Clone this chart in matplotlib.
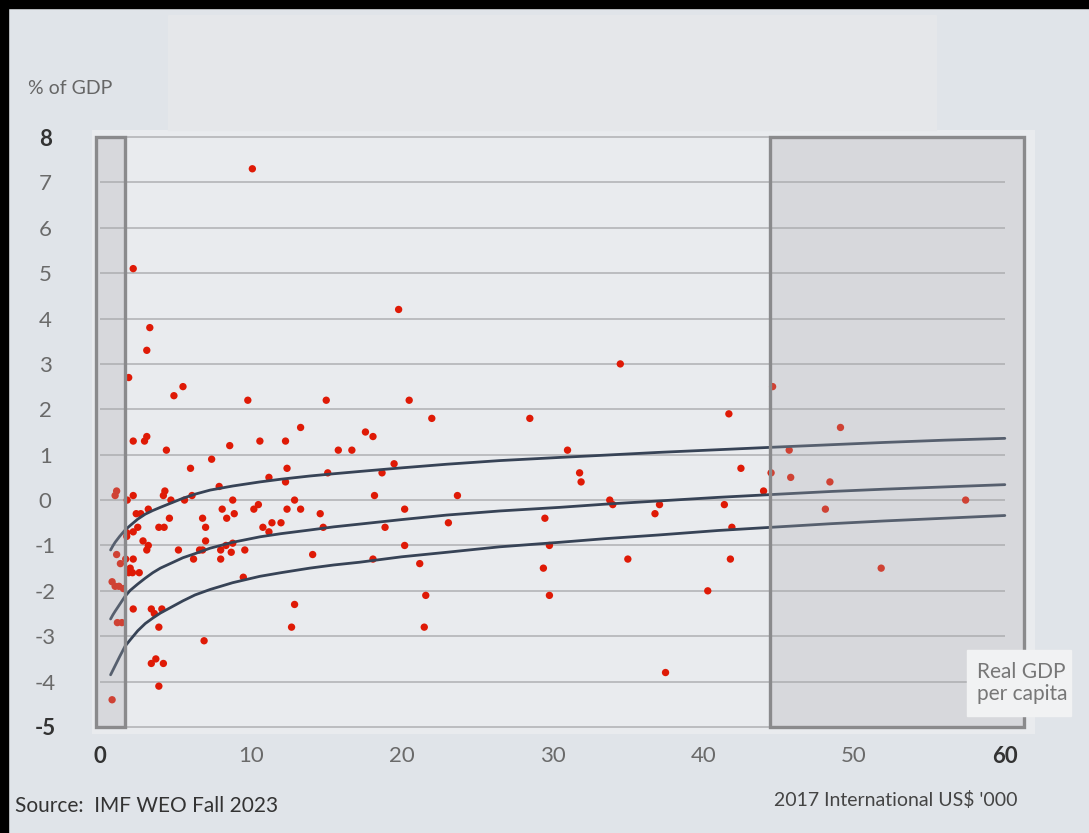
import matplotlib
matplotlib.use("Agg")
import matplotlib.pyplot as plt
from matplotlib.patches import Rectangle

plt.rcParams['font.family'] = ['Lato', 'DejaVu Sans']

# real GDP per capita ('000 2017 intl US$) and balance (% of GDP)
gdp_pc = [
    0.8, 1.0, 1.1, 0.8, 1.0, 1.25, 1.55, 1.15, 1.45, 1.1, 1.35,
    2.2, 2.95, 3.1, 4.4, 8.6, 7.4, 6.0, 7.9, 1.8, 2.2, 4.2, 4.3, 4.7, 5.6, 6.1, 8.8,
    2.4, 2.7, 3.2, 4.6, 6.8, 8.1, 8.4, 8.9, 2.5, 3.9, 4.25, 7.0, 1.77, 2.2, 1.77,
    2.85, 3.2, 3.1, 5.2, 6.6, 6.8, 7.0, 8.0, 8.35, 8.8, 8.7, 9.6,
    1.7, 2.2, 2.0, 1.9, 2.15, 2.6, 2.2, 3.4, 3.6, 4.1, 3.9, 6.9, 3.4, 3.7, 4.2, 3.9,
    6.2, 8.0,
    10.1, 2.2, 3.3, 3.1, 1.9, 4.9, 5.5, 9.8, 15.0, 13.3,
    10.6, 12.3, 17.6, 18.1, 15.8, 16.7, 19.5, 18.7, 12.4, 11.2, 15.1, 12.3, 18.2,
    12.9, 10.2, 10.5, 12.4, 13.3, 14.6, 10.8, 11.4, 12.0, 11.2, 14.8, 18.9, 14.1, 18.1,
    9.5, 12.9, 12.7,
    19.8, 20.5, 22.0, 28.5, 23.7, 20.2, 23.1, 29.5, 20.2, 29.8, 21.2, 29.4, 21.6,
    29.8, 21.5,
    34.5, 41.7, 31.0, 31.8, 31.9, 42.5, 44.0, 33.8, 34.0, 37.1, 36.8, 41.4, 41.9,
    35.0, 41.8, 40.3, 37.5,
    44.6, 49.1, 45.7, 44.5, 45.8, 48.4, 57.4, 48.1, 51.8,
]
balance = [
    -4.4, 0.1, 0.2, -1.8, -1.9, -1.9, -1.95, -2.7, -2.7, -1.2, -1.4,
    1.3, 1.3, 1.4, 1.1, 1.2, 0.9, 0.7, 0.3, 0.0, 0.1, 0.1, 0.2, 0.0, 0.0, 0.1, 0.0,
    -0.3, -0.3, -0.2, -0.4, -0.4, -0.2, -0.4, -0.3, -0.6, -0.6, -0.6, -0.6, -0.72, -0.7, -0.8,
    -0.9, -1.0, -1.1, -1.1, -1.1, -1.1, -0.9, -1.1, -1.0, -0.95, -1.15, -1.1,
    -1.3, -1.3, -1.5, -1.6, -1.6, -1.6, -2.4, -2.4, -2.5, -2.4, -2.8, -3.1, -3.6, -3.5, -3.6, -4.1,
    -1.3, -1.3,
    7.3, 5.1, 3.8, 3.3, 2.7, 2.3, 2.5, 2.2, 2.2, 1.6,
    1.3, 1.3, 1.5, 1.4, 1.1, 1.1, 0.8, 0.6, 0.7, 0.5, 0.6, 0.4, 0.1,
    0.0, -0.2, -0.1, -0.2, -0.2, -0.3, -0.6, -0.5, -0.5, -0.7, -0.6, -0.6, -1.2, -1.3,
    -1.7, -2.3, -2.8,
    4.2, 2.2, 1.8, 1.8, 0.1, -0.2, -0.5, -0.4, -1.0, -1.0, -1.4, -1.5, -2.1,
    -2.1, -2.8,
    3.0, 1.9, 1.1, 0.6, 0.4, 0.7, 0.2, 0.0, -0.1, -0.1, -0.3, -0.1, -0.6,
    -1.3, -1.3, -2.0, -3.8,
    2.5, 1.6, 1.1, 0.6, 0.5, 0.4, 0.0, -0.2, -1.5,
]

# fitted curves
curve_x = [0.7, 0.85, 1.0, 1.3, 1.66, 2.0, 2.5, 3.0, 3.5, 4.0, 5.5, 6.3, 7.3, 8.8, 10.6,
           12, 13.9, 15.5, 17.2, 20, 23, 26.5, 30.5, 33.5, 37, 41, 45, 48.5, 52, 56, 60]
curve_upper = [-1.10, -1.01, -0.93, -0.80, -0.66, -0.56, -0.42, -0.31, -0.23, -0.16, 0.04,
               0.13, 0.22, 0.31, 0.40, 0.46, 0.53, 0.58, 0.63, 0.71, 0.79, 0.87, 0.94,
               0.99, 1.05, 1.11, 1.17, 1.22, 1.27, 1.32, 1.36]
curve_mid = [-2.62, -2.53, -2.45, -2.30, -2.12, -1.99, -1.85, -1.72, -1.60, -1.50, -1.27,
             -1.18, -1.06, -0.93, -0.81, -0.74, -0.66, -0.59, -0.53, -0.43, -0.33, -0.24,
             -0.16, -0.09, -0.02, 0.06, 0.13, 0.19, 0.24, 0.29, 0.34]
curve_lower = [-3.85, -3.75, -3.65, -3.45, -3.22, -3.08, -2.88, -2.72, -2.60, -2.49, -2.22,
               -2.09, -1.97, -1.82, -1.68, -1.60, -1.50, -1.43, -1.37, -1.25, -1.15, -1.03,
               -0.93, -0.85, -0.77, -0.67, -0.59, -0.52, -0.46, -0.40, -0.34]

x_ticks = [0, 10, 20, 30, 40, 50, 60]
y_ticks = list(range(-5, 9))
strong_x = [0, 60]
strong_y = [-5, 8]

W, H = 1089, 833
fig = plt.figure(figsize=(W / 100, H / 100), dpi=100)
fig.patch.set_facecolor('#e0e4e9')

# lighter title panel and black frame edges
fig.patches.append(Rectangle((168 / W, 1 - 130 / H), 768 / W, 115 / H,
                             transform=fig.transFigure, color='#e5e7ea', zorder=0))
fig.patches.append(Rectangle((0, 1 - 8 / H), 1, 8 / H, transform=fig.transFigure,
                             color='black', zorder=10))
fig.patches.append(Rectangle((0, 0), 8 / W, 1, transform=fig.transFigure,
                             color='black', zorder=10))

ax = fig.add_axes([92.5 / W, 1 - 733.8 / H, 942.5 / W, 603.6 / H])
ax.set_facecolor('#e9ebee')
ax.set_xlim(-0.5, 62)
ax.set_ylim(-5.15, 8.15)
for s in ax.spines.values():
    s.set_visible(False)

ax.hlines(y_ticks, x_ticks[0], x_ticks[-1], color='#b8b9bc', lw=1.3, zorder=1)

ax.scatter(gdp_pc, balance, s=28, color='#df1a06', edgecolors='none', zorder=3)

for cy in (curve_upper, curve_mid, curve_lower):
    ax.plot(curve_x, cy, color='#374356', lw=2.0, zorder=4,
            solid_capstyle='round', solid_joinstyle='round')

# shaded ranges
for x0, x1 in [(-0.3, 1.66), (44.4, 61.3)]:
    ax.add_patch(Rectangle((x0, -5), x1 - x0, 13, facecolor='#a9aaae', alpha=0.28,
                           edgecolor='none', zorder=5))
    ax.add_patch(Rectangle((x0, -5), x1 - x0, 13, facecolor='none',
                           edgecolor='#8a8a8c', lw=2.4, zorder=6))

ax.set_xticks(x_ticks)
ax.set_xticklabels([str(v) for v in x_ticks])
ax.set_yticks(y_ticks)
ax.set_yticklabels([str(v) for v in y_ticks])
ax.tick_params(axis='both', length=0, labelsize=16)
ax.tick_params(axis='x', pad=9)
ax.tick_params(axis='y', pad=34)
for lab, v in zip(ax.get_xticklabels(), x_ticks):
    if v in strong_x:
        lab.set_color('#333333'); lab.set_fontweight('bold')
    else:
        lab.set_color('#6a6a6a')
for lab, v in zip(ax.get_yticklabels(), y_ticks):
    lab.set_ha('center')
    if v in strong_y:
        lab.set_color('#333333'); lab.set_fontweight('bold')
    else:
        lab.set_color('#6a6a6a')

fig.text(28 / W, 1 - 88 / H, '% of GDP', fontsize=14, color='#666666', va='center')
fig.text(15 / W, 1 - 806 / H, 'Source:  IMF WEO Fall 2023', fontsize=15,
         color='#333333', va='center')
fig.text(1018 / W, 1 - 800 / H, r"2017 International US\$ '000", fontsize=14,
         color='#444444', va='center', ha='right')

fig.patches.append(Rectangle((967 / W, 1 - 716 / H), 104 / W, 66 / H,
                             transform=fig.transFigure, color='#f1f2f3', zorder=7))
fig.text(977 / W, 1 - 683 / H, 'Real GDP\nper capita', fontsize=15, color='#777777',
         va='center', linespacing=1.15, zorder=8)

fig.savefig('out.png', dpi=100, facecolor=fig.get_facecolor())
